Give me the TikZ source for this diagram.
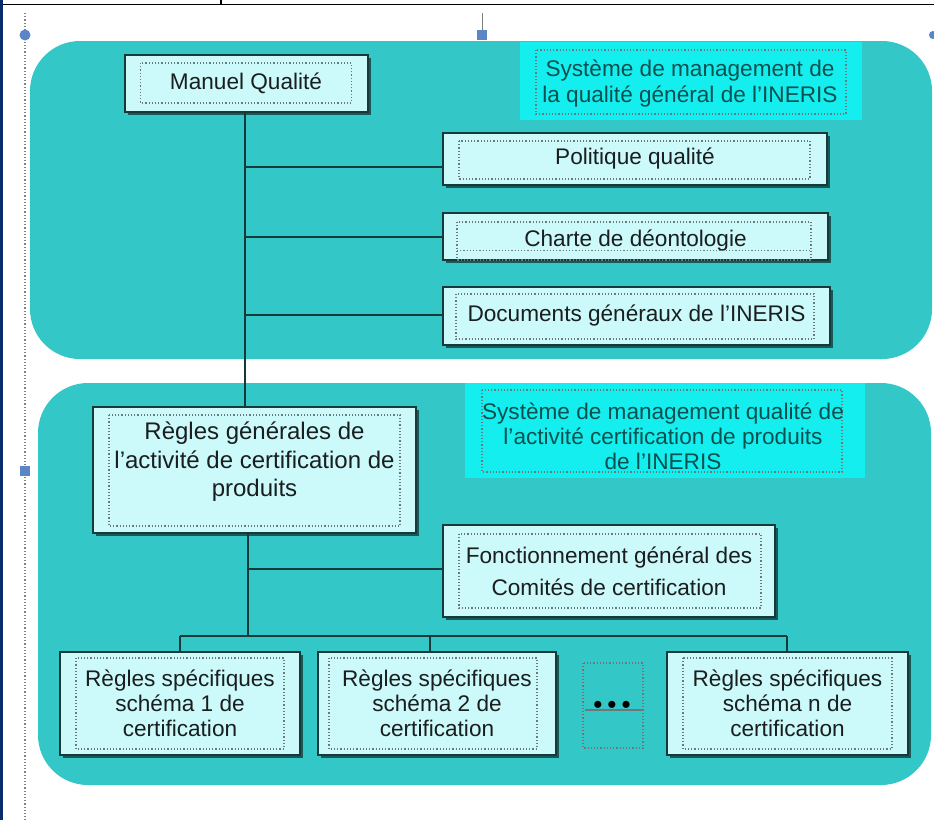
\documentclass[tikz,border=0pt]{standalone}
\usepackage{fontspec}
\setmainfont{Liberation Sans}
\usetikzlibrary{calc,shadows}
\definecolor{panel}{HTML}{33C7C7}
\definecolor{boxfill}{HTML}{CCF9FA}
\definecolor{titlebg}{HTML}{14EEEE}
\definecolor{boxline}{HTML}{163A3A}
\definecolor{txt}{HTML}{1A1E1E}
\definecolor{titletxt}{HTML}{0B5050}
\definecolor{handle}{HTML}{5A86C8}
\definecolor{edgeblue}{HTML}{0A2A6A}
\definecolor{framegray}{HTML}{6E7878}
\newcommand\inframe[5]{%
  \draw[innerframe] ($(#1.north west)+(#2,#4)$) rectangle ($(#1.south east)+(-#3,-#5)$);}
\begin{document}
\begin{tikzpicture}[x=1pt,y=-1pt,
  docbox/.style={draw=boxline, line width=2pt, fill=boxfill, inner sep=0pt,
    align=center, text=txt, font=\fontsize{22.6}{26}\selectfont,
    general shadow={shadow xshift=3pt, shadow yshift=-3pt, fill=black, opacity=0.55}},
  boxtext/.style={inner sep=0pt, align=center, text=txt},
  titletext/.style={inner sep=0pt, align=center, text=titletxt},
  innerframe/.style={draw=framegray, dotted, line width=1.2pt},
  conn/.style={draw=boxline, line width=2pt},
  panelshape/.style={fill=panel, rounded corners=50pt}]
\useasboundingbox (0,0) rectangle (934,820);
\fill[white] (0,0) rectangle (934,820);

% panels
\fill[panelshape] (30,41) rectangle (932,359);
\fill[panelshape] (38,383) rectangle (931,785);

% title backgrounds
\fill[titlebg] (520,42) rectangle (862,120);
\draw[innerframe] (536,50) rectangle (846,114);
\fill[titlebg] (465,383) rectangle (865,478);
\draw[innerframe] (482,390) rectangle (842,472);

\node[titletext, font=\fontsize{22.6}{26}\selectfont] (t1) at (690,84)
  {Système de management de\\la qualité général de l’INERIS};
\node[titletext, font=\fontsize{22.6}{25}\selectfont] (t2) at (663,436)
  {Système de management qualité de\\l’activité certification de produits\\de l’INERIS};

% boxes
\node[docbox, minimum width=243pt, minimum height=57pt] (mq) at (246,83.5) {Manuel Qualité};
\node[docbox, minimum width=384pt, minimum height=52pt] (pq) at (635,159) {Politique qualité};
\node[docbox, minimum width=385pt, minimum height=47pt] (cd) at (635.5,236.5) {};
\node[docbox, minimum width=387pt, minimum height=58pt] (dg) at (636.5,316) {Documents généraux de l’INERIS};
\node[docbox, minimum width=323pt, minimum height=126pt] (rg) at (254.5,470) {};
\node[docbox, minimum width=332pt, minimum height=92pt, font=\fontsize{22.6}{32}\selectfont] (fg) at (609,571)
  {Fonctionnement général des\\Comités de certification};
\node[docbox, minimum width=240pt, minimum height=103pt, font=\fontsize{22.6}{25}\selectfont] (b1) at (180,703.5)
  {Règles spécifiques\\schéma 1 de\\certification};
\node[docbox, minimum width=238pt, minimum height=103pt, font=\fontsize{22.6}{25}\selectfont] (b2) at (437,703.5)
  {Règles spécifiques\\schéma 2 de\\certification};
\node[docbox, minimum width=241pt, minimum height=103pt, font=\fontsize{22.6}{25}\selectfont] (bn) at (787.5,703.5)
  {Règles spécifiques\\schéma n de\\certification};

\node[boxtext, font=\fontsize{22.6}{26}\selectfont] (cdt) at ($(cd.center)+(0,4)$) {Charte de déontologie};
\node[boxtext, font=\fontsize{24}{28.5}\selectfont] (rgt) at ($(rg.center)+(0,-8)$)
  {Règles générales de\\l’activité de certification de\\produits};

% inner frames
\inframe{mq}{17}{17}{9}{10}
\inframe{pq}{17}{18}{9}{7}
\inframe{cd}{15}{18}{10}{1}
\draw[innerframe] ($(cd.west)+(15,14)$) -- ($(cd.east)+(-18,14)$);
\inframe{dg}{14}{17}{8}{7}
\inframe{rg}{17}{17}{9}{8}
\inframe{fg}{17}{15}{10}{10}
\inframe{b1}{17}{17}{7}{7}
\inframe{b2}{12}{20}{7}{7}
\inframe{bn}{17}{17}{7}{7}

% connectors
\coordinate (sp1) at (245,0);
\coordinate (y1) at (0,167);
\coordinate (y2) at (0,237);
\coordinate (y3) at (0,315);
\draw[conn] (mq.south -| sp1) -- (rg.north -| sp1);
\draw[conn] (sp1 |- y1) -- (pq.west |- y1);
\draw[conn] (sp1 |- y2) -- (cd.west |- y2);
\draw[conn] (sp1 |- y3) -- (dg.west |- y3);
\coordinate (sp2) at (248,0);
\coordinate (y4) at (0,569);
\coordinate (d1) at (180,636);
\coordinate (d2) at (430,636);
\coordinate (d3) at (787,636);
\draw[conn] (rg.south -| sp2) -- (sp2 |- d1);
\draw[conn] (sp2 |- y4) -- (fg.west |- y4);
\draw[conn] (d1) -- (d3);
\draw[conn] (d1) -- (b1.north -| d1);
\draw[conn] (d2) -- (b2.north -| d2);
\draw[conn] (d3) -- (bn.north -| d3);

% ellipsis
\draw[innerframe] (583,663) rectangle (643,748);
\draw[framegray, line width=1.2pt] (585,710) -- (642,710);
\node[inner sep=0pt, anchor=base, text=black, font=\fontsize{26}{26}\selectfont] (dots) at (612,713) {•\kern5pt•\kern5pt•};

% editor artefacts
\draw[line width=1.5pt] (0,4.5) -- (934,4.5);
\draw[line width=1.5pt] (221,0) -- (221,4.5);
\draw[edgeblue, line width=3pt] (1.5,0) -- (1.5,820);
\draw[black!50, dotted, line width=1.2pt] (25,13) -- (25,820);
\fill[handle] (25,35) circle (5.5);
\draw[black!50, line width=1pt] (482,13) -- (482,30);
\fill[handle] (477,30) rectangle (487,40);
\fill[handle] (20,466) rectangle (30,476);
\fill[handle] (933,35) circle (4);
\end{tikzpicture}
\end{document}
